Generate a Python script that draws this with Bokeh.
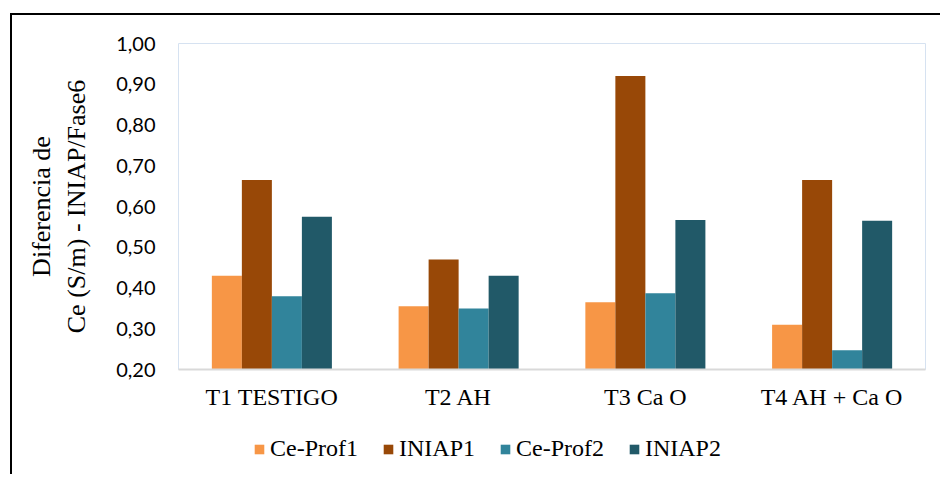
from bokeh.plotting import figure
from bokeh.models import (FactorRange, Range1d, FixedTicker, ColumnDataSource, Legend, LegendItem,
                          InlineStyleSheet)
from bokeh.layouts import column
from bokeh.transform import dodge
from bokeh.embed import file_html
from bokeh.resources import INLINE

categories = ["T1 TESTIGO", "T2 AH", "T3 Ca O", "T4 AH + Ca O"]
ce_prof1 = [0.43, 0.355, 0.365, 0.31]
iniap1 = [0.665, 0.47, 0.92, 0.665]
ce_prof2 = [0.38, 0.35, 0.387, 0.247]
iniap2 = [0.575, 0.43, 0.567, 0.565]
series_names = ["Ce-Prof1", "INIAP1", "Ce-Prof2", "INIAP2"]
series_colors = ["#F79646", "#984807", "#31849B", "#215968"]
y_ticks = [0.2, 0.3, 0.4, 0.5, 0.6, 0.7, 0.8, 0.9, 1.0]
y_tick_labels = ["0,20", "0,30", "0,40", "0,50", "0,60", "0,70", "0,80", "0,90", "1,00"]
y_label = "Diferencia de\nCe (S/m) - INIAP/Fase6"

source = ColumnDataSource(dict(cat=categories, s0=ce_prof1, s1=iniap1, s2=ce_prof2, s3=iniap2))

# outer frame lines of the chart box (top and left edges)
frame_css_top = InlineStyleSheet(css="""
:host { position: relative; }
:host::before { content: ""; position: absolute; left: 10px; top: 13px; right: 0; height: 2px;
                background: #000; z-index: 100; pointer-events: none; }
:host::after { content: ""; position: absolute; left: 10px; top: 13px; bottom: 0; width: 2px;
               background: #000; z-index: 100; pointer-events: none; }
""")
frame_css_left = InlineStyleSheet(css="""
:host { position: relative; }
:host::after { content: ""; position: absolute; left: 10px; top: 0; bottom: 0; width: 2px;
               background: #000; z-index: 100; pointer-events: none; }
""")

# ---- main chart ----
p = figure(width=940, height=419, x_range=FactorRange(*categories), y_range=Range1d(0.2, 1.0),
           output_backend="svg", toolbar_location=None,
           min_border_left=178, min_border_right=15, min_border_top=43, min_border_bottom=50,
           stylesheets=[frame_css_top])

bw = 0.1607
offsets = [-1.5 * bw, -0.5 * bw, 0.5 * bw, 1.5 * bw]
for i, col in enumerate(series_colors):
    p.vbar(x=dodge("cat", offsets[i], range=p.x_range), top="s%d" % i, bottom=0.2, width=bw,
           source=source, fill_color=col, line_color=None)

p.xgrid.grid_line_color = None
p.ygrid.grid_line_color = None
p.outline_line_color = "#D6E2F1"
p.outline_line_width = 1

xa = p.xaxis[0]
xa.axis_line_color = "#D9D9D9"
xa.axis_line_width = 2
xa.major_tick_line_color = None
xa.minor_tick_line_color = None
xa.major_tick_out = 0
xa.major_label_standoff = 14
xa.major_label_text_font = "Liberation Serif"
xa.major_label_text_font_size = "24px"
xa.major_label_text_color = "#000000"

ya = p.yaxis[0]
ya.ticker = FixedTicker(ticks=y_ticks)
ya.major_label_overrides = {t: l for t, l in zip(y_ticks, y_tick_labels)}
ya.axis_line_color = None
ya.major_tick_line_color = None
ya.minor_tick_line_color = None
ya.major_tick_out = 0
ya.major_label_standoff = 23
ya.major_label_text_font = "Lato"
ya.major_label_text_font_size = "20px"
ya.major_label_text_color = "#000000"
ya.axis_label = y_label
ya.axis_label_text_font = "Liberation Serif"
ya.axis_label_text_font_size = "26px"
ya.axis_label_text_font_style = "normal"
ya.axis_label_text_color = "#000000"
ya.axis_label_standoff = 22

# ---- legend strip (its frame is aligned with the chart's frame) ----
q = figure(width=940, height=55, x_range=p.x_range, y_range=Range1d(0.2, 1.0),
           x_axis_type=None, y_axis_type=None, output_backend="svg", toolbar_location=None,
           min_border_left=0, min_border_right=0, min_border_top=0, min_border_bottom=0,
           stylesheets=[frame_css_left])
q.outline_line_color = None
q.xgrid.grid_line_color = None
q.ygrid.grid_line_color = None
items = []
for i, (name, col) in enumerate(zip(series_names, series_colors)):
    r = q.vbar(x=dodge("cat", offsets[i], range=q.x_range), top="s%d" % i, bottom=0.2, width=bw,
               source=source, fill_color=col, line_color=None, visible=False)
    items.append(LegendItem(label=name, renderers=[r]))
lg = Legend(items=items, orientation="horizontal", location=(75, 12),
            glyph_width=12, glyph_height=12, label_standoff=5, spacing=24,
            padding=0, margin=0, border_line_color=None, background_fill_alpha=0,
            inactive_fill_alpha=0,
            label_text_font="Liberation Serif", label_text_font_size="24px",
            label_text_color="#000000")
q.add_layout(lg)

layout = column(p, q, spacing=0)

open("out.html", "w").write(file_html(layout, INLINE))
